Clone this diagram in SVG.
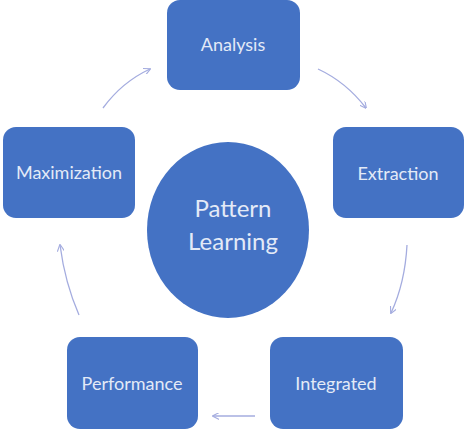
<svg xmlns="http://www.w3.org/2000/svg" width="467" height="436" viewBox="0 0 467 436">
<style>
.box{fill:#4472c4;}
.lbl{font-family:Lato,"Open Sans",sans-serif;font-size:18px;fill:#e3eaf7;text-anchor:middle;}
.big{font-family:Lato,"Open Sans",sans-serif;font-size:24px;fill:#e3eaf7;text-anchor:middle;}
.arr{fill:none;stroke:#a4acdf;stroke-width:1.3;marker-end:url(#ah);}
</style>
<defs>
<marker id="ah" viewBox="0 0 10 10" refX="9" refY="5" markerWidth="7" markerHeight="7" orient="auto" markerUnits="userSpaceOnUse">
<path d="M0,0 L10,5 L0,10" fill="none" stroke="#a4acdf" stroke-width="1.6"/>
</marker>
</defs>
<rect width="467" height="436" fill="#ffffff"/>
<g id="connectors">
<path class="arr" d="M103,108 Q122,82 150,69"/>
<path class="arr" d="M318,69 Q346,82 366,108"/>
<path class="arr" d="M407,245 Q405,283 391,313"/>
<path class="arr" d="M255,416 L213,416"/>
<path class="arr" d="M79,315 Q65,283 60,245"/>
</g>
<g id="analysis"><rect class="box" x="167" y="0" width="133" height="90" rx="13"/><text class="lbl" x="233" y="51">Analysis</text></g>
<g id="extraction"><rect class="box" x="333" y="127" width="131" height="91" rx="13"/><text class="lbl" x="398" y="180">Extraction</text></g>
<g id="integrated"><rect class="box" x="270" y="337" width="133" height="92" rx="13"/><text class="lbl" x="336" y="390">Integrated</text></g>
<g id="performance"><rect class="box" x="67" y="337" width="131" height="92" rx="13"/><text class="lbl" x="132" y="390">Performance</text></g>
<g id="maximization"><rect class="box" x="3" y="127" width="132" height="91" rx="13"/><text class="lbl" x="69" y="179">Maximization</text></g>
<g id="pattern-learning"><ellipse class="box" cx="228" cy="230" rx="81" ry="88"/><text class="big" x="233" y="217">Pattern</text><text class="big" x="233" y="250">Learning</text></g>
</svg>
